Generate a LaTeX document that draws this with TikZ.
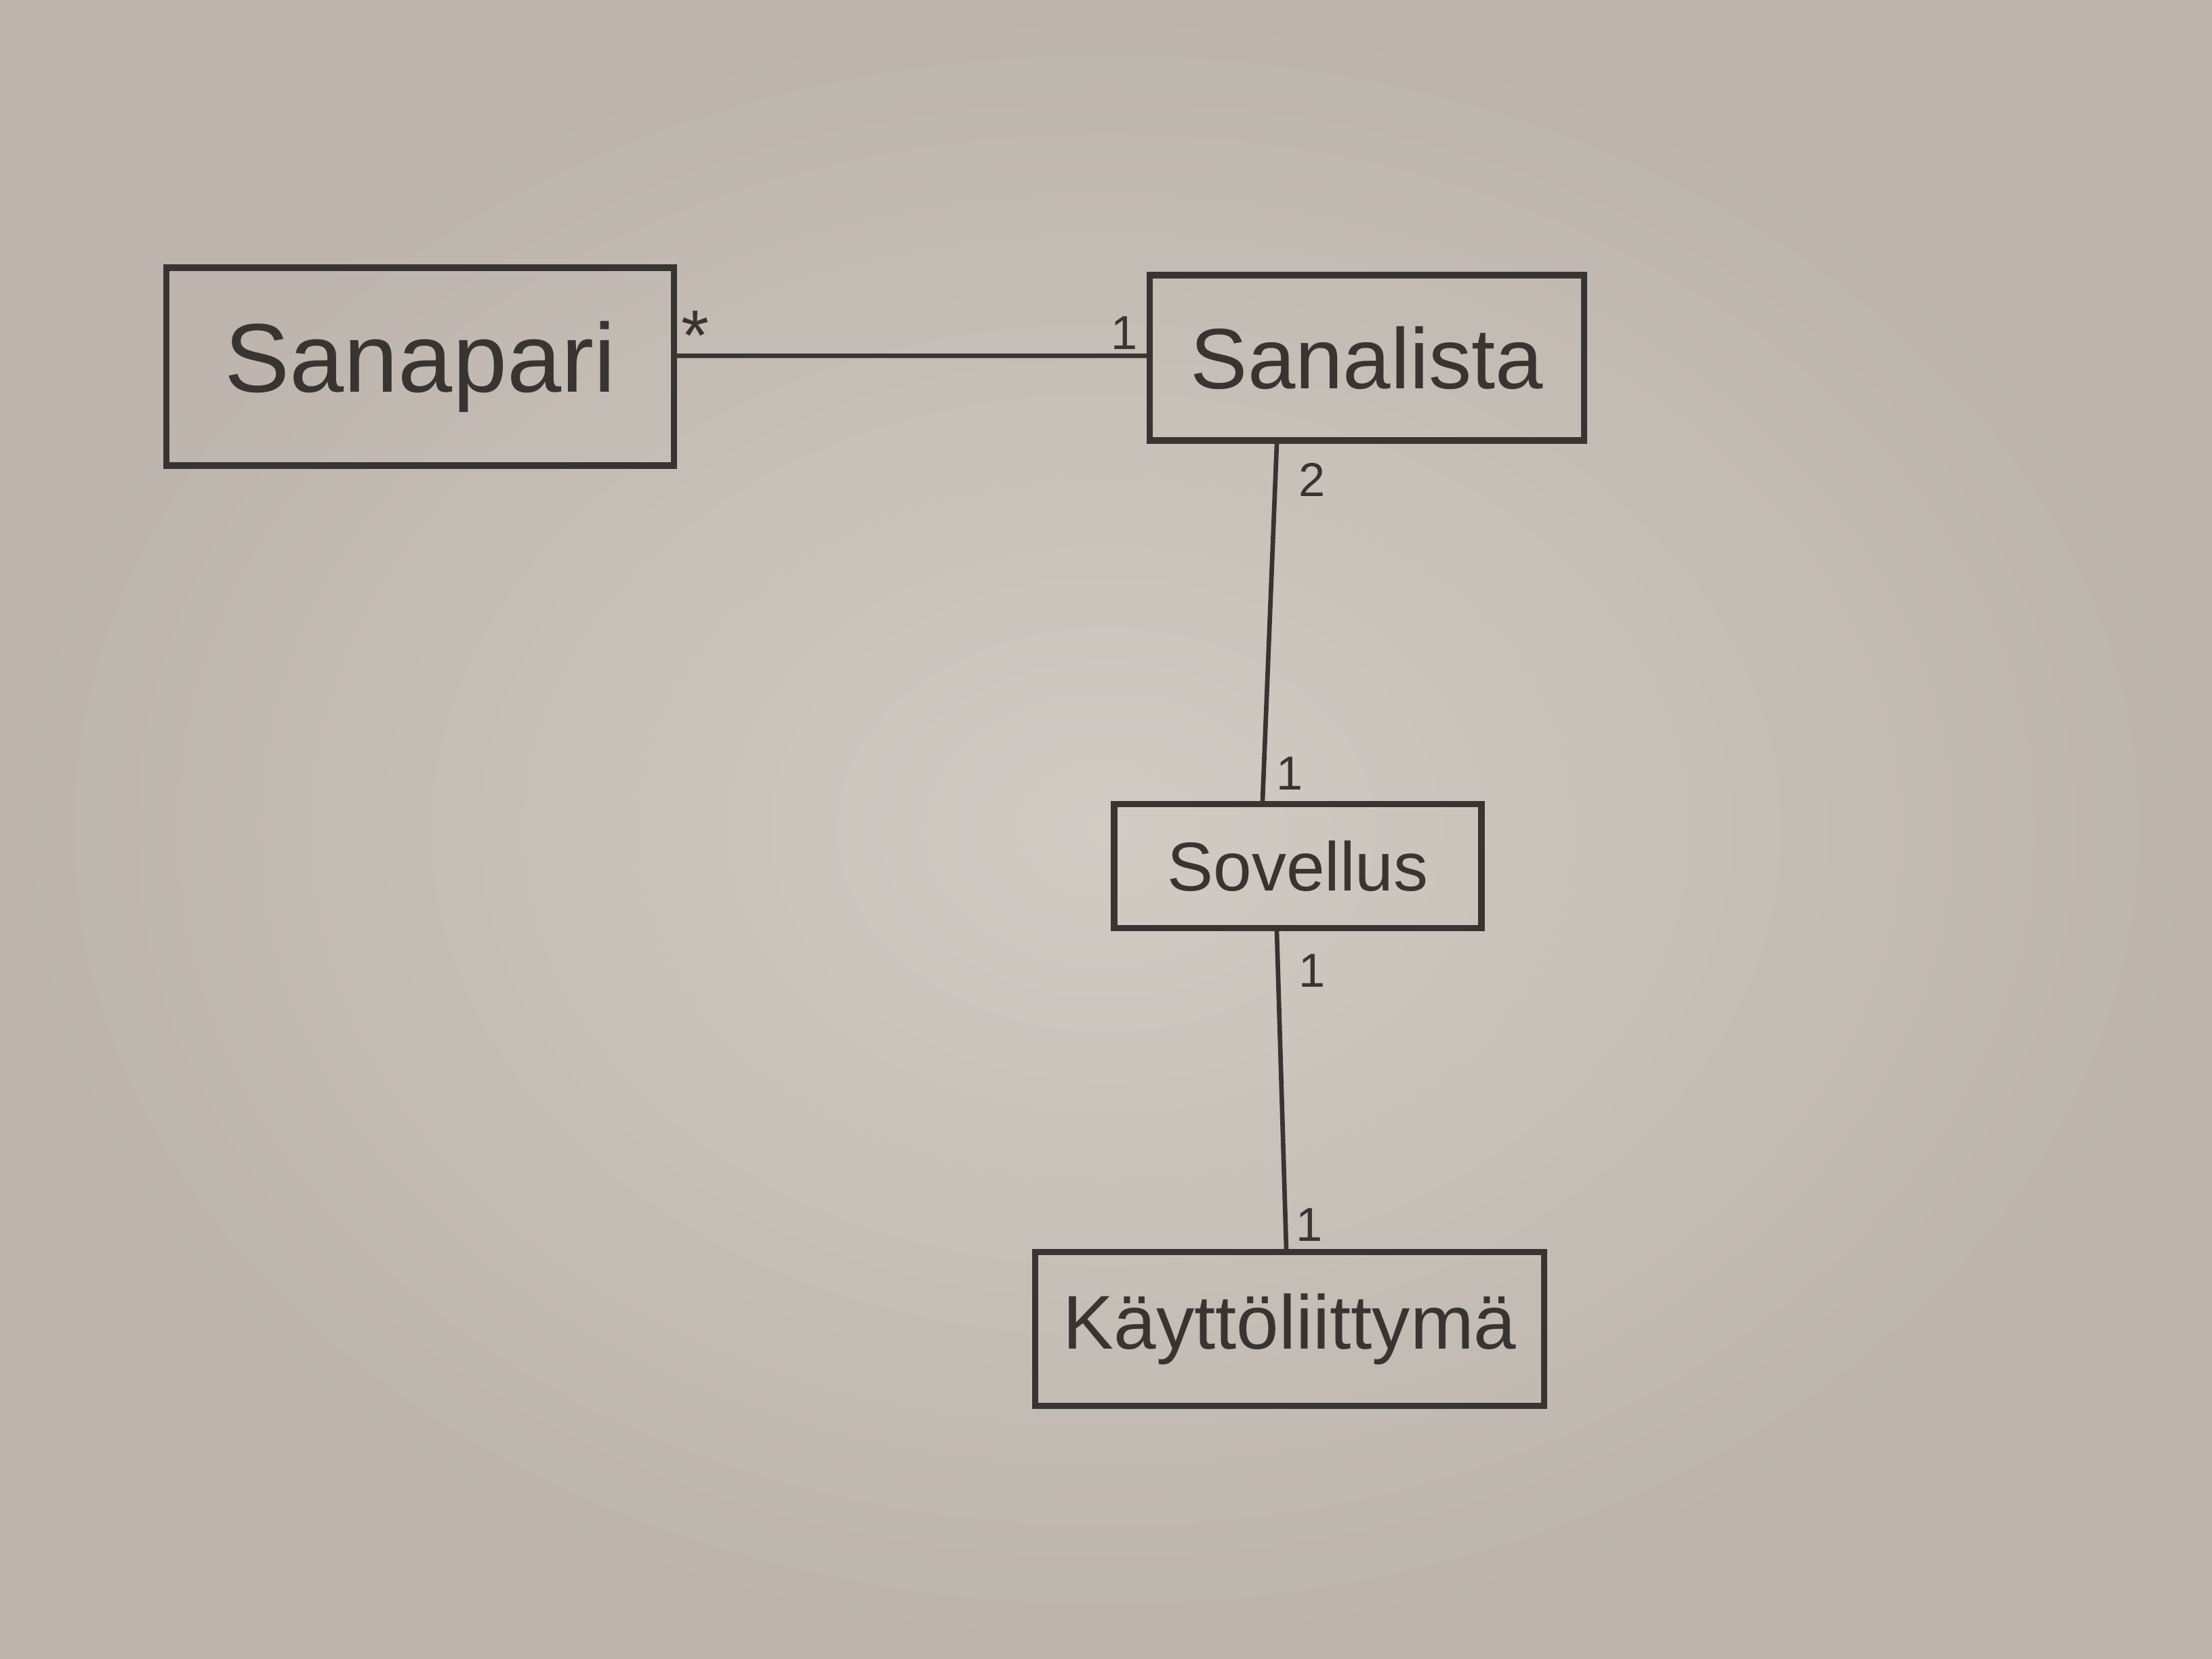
\documentclass[tikz,border=0pt]{standalone}
\usepackage{fontspec}
\setmainfont{Liberation Sans}
\definecolor{paper}{HTML}{C8C1B9}
\definecolor{paperdark}{HTML}{B0A79F}
\definecolor{pencil}{HTML}{3A3431}
\begin{document}
\begin{tikzpicture}[x=1cm,y=1cm,
  cls/.style={draw=pencil, line width=2.6pt, text=pencil, inner sep=0pt},
  assoc/.style={draw=pencil, line width=1.9pt},
  mult/.style={text=pencil, inner sep=0pt, font=\fontsize{20}{24}\selectfont}]
\useasboundingbox (0,0) rectangle (32.64,-24.48);
\shade[inner color=paper!60!white!95!paper, outer color=paperdark] (0,0) rectangle (32.64,-24.48);
\fill[paper, opacity=0.55] (0,0) rectangle (32.64,-24.48);

\node[cls, minimum width=7.49cm, minimum height=2.92cm, font=\fontsize{41}{48}\selectfont] (sanapari) at (6.20,-5.41) {Sanapari};
\node[cls, minimum width=6.41cm, minimum height=2.44cm, font=\fontsize{36}{42}\selectfont] (sanalista) at (20.17,-5.28) {Sanalista};
\node[cls, minimum width=5.42cm, minimum height=1.83cm, font=\fontsize{29}{34}\selectfont] (sovellus) at (19.15,-12.78) {Sovellus};
\node[cls, minimum width=7.51cm, minimum height=2.27cm, font=\fontsize{32}{38}\selectfont] (kaytto) at (19.03,-19.61) {Käyttöliittymä};

\draw[assoc] ([yshift=0.16cm]sanapari.east) -- ([yshift=0.03cm]sanalista.west);
\draw[assoc] ([xshift=-1.33cm]sanalista.south) -- ([xshift=-0.52cm]sovellus.north);
\draw[assoc] ([xshift=-0.31cm]sovellus.south) -- ([xshift=-0.05cm]kaytto.north);

\node[mult, font=\fontsize{30}{34}\selectfont] (m1) at (10.26,-4.95) {*};
\node[mult] (m2) at (16.59,-4.91) {1};
\node[mult] (m3) at (19.36,-7.08) {2};
\node[mult] (m4) at (19.03,-11.41) {1};
\node[mult] (m5) at (19.36,-14.32) {1};
\node[mult] (m6) at (19.32,-18.07) {1};
\end{tikzpicture}
\end{document}
